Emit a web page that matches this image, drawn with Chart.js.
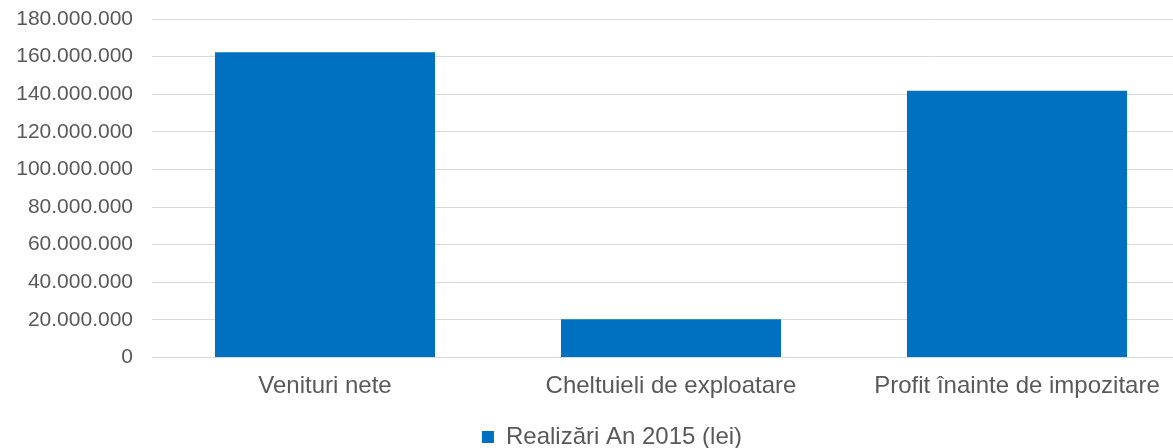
<!DOCTYPE html>
<html>
<head>
<meta charset="utf-8">
<script src="https://cdn.jsdelivr.net/npm/chart.js@4/dist/chart.umd.min.js"></script>
<style>
  html, body { margin: 0; padding: 0; overflow: hidden; background: #ffffff; }
  #wrap { position: relative; width: 1224px; height: 459px; }
</style>
</head>
<body>
<div id="wrap"><canvas id="c"></canvas></div>
<script>
const categories = ["Venituri nete", "Cheltuieli de exploatare", "Profit înainte de impozitare"];
const seriesName = "Realizări An 2015 (lei)";
const seriesValues = [162300000, 20300000, 141900000];
const yTickValues = [0, 20000000, 40000000, 60000000, 80000000, 100000000, 120000000, 140000000, 160000000, 180000000];

function fmt(v) {
  return String(Math.round(v)).replace(/\B(?=(\d{3})+(?!\d))/g, '.');
}

const textColor = '#595959';
const gridColor = '#d9d9d9';

new Chart(document.getElementById('c'), {
  type: 'bar',
  data: {
    labels: categories,
    datasets: [{
      label: seriesName,
      data: seriesValues,
      backgroundColor: '#0070C0',
      borderWidth: 0,
      categoryPercentage: 1.0,
      barPercentage: 0.636,
      yAxisID: 'y'
    }]
  },
  options: {
    responsive: true,
    maintainAspectRatio: false,
    animation: false,
    layout: { padding: { top: 19, left: 0, right: 0, bottom: 0 } },
    plugins: {
      tooltip: { enabled: false },
      legend: {
        display: true,
        position: 'bottom',
        labels: {
          boxWidth: 12,
          boxHeight: 12,
          padding: 0,
          color: textColor,
          font: { family: '"Liberation Sans", Arial, sans-serif', size: 24 }
        }
      }
    },
    scales: {
      x: {
        grid: { display: false, drawTicks: false },
        border: { display: true, color: gridColor, width: 1 },
        ticks: {
          padding: 14,
          color: textColor,
          maxRotation: 0,
          autoSkip: false,
          font: { family: '"Liberation Sans", Arial, sans-serif', size: 24 }
        },
        afterFit: (s) => { s.height = 67.5; }
      },
      y: {
        position: 'left',
        min: yTickValues[0],
        max: yTickValues[yTickValues.length - 1],
        afterBuildTicks: (s) => { s.ticks = yTickValues.map(v => ({ value: v })); },
        grid: { color: gridColor, lineWidth: 1, drawTicks: false },
        border: { display: false },
        ticks: {
          padding: 19,
          color: textColor,
          font: { family: '"Liberation Sans", Arial, sans-serif', size: 21 },
          callback: (v) => fmt(v)
        },
        afterFit: (s) => { s.width = 152; s.paddingTop = 0; s.paddingBottom = 0; }
      },
      yRight: {
        position: 'right',
        display: true,
        grid: { display: false, drawTicks: false },
        border: { display: false },
        ticks: { display: false },
        afterFit: (s) => { s.width = 34; s.paddingTop = 0; s.paddingBottom = 0; }
      }
    }
  }
});
</script>
</body>
</html>
